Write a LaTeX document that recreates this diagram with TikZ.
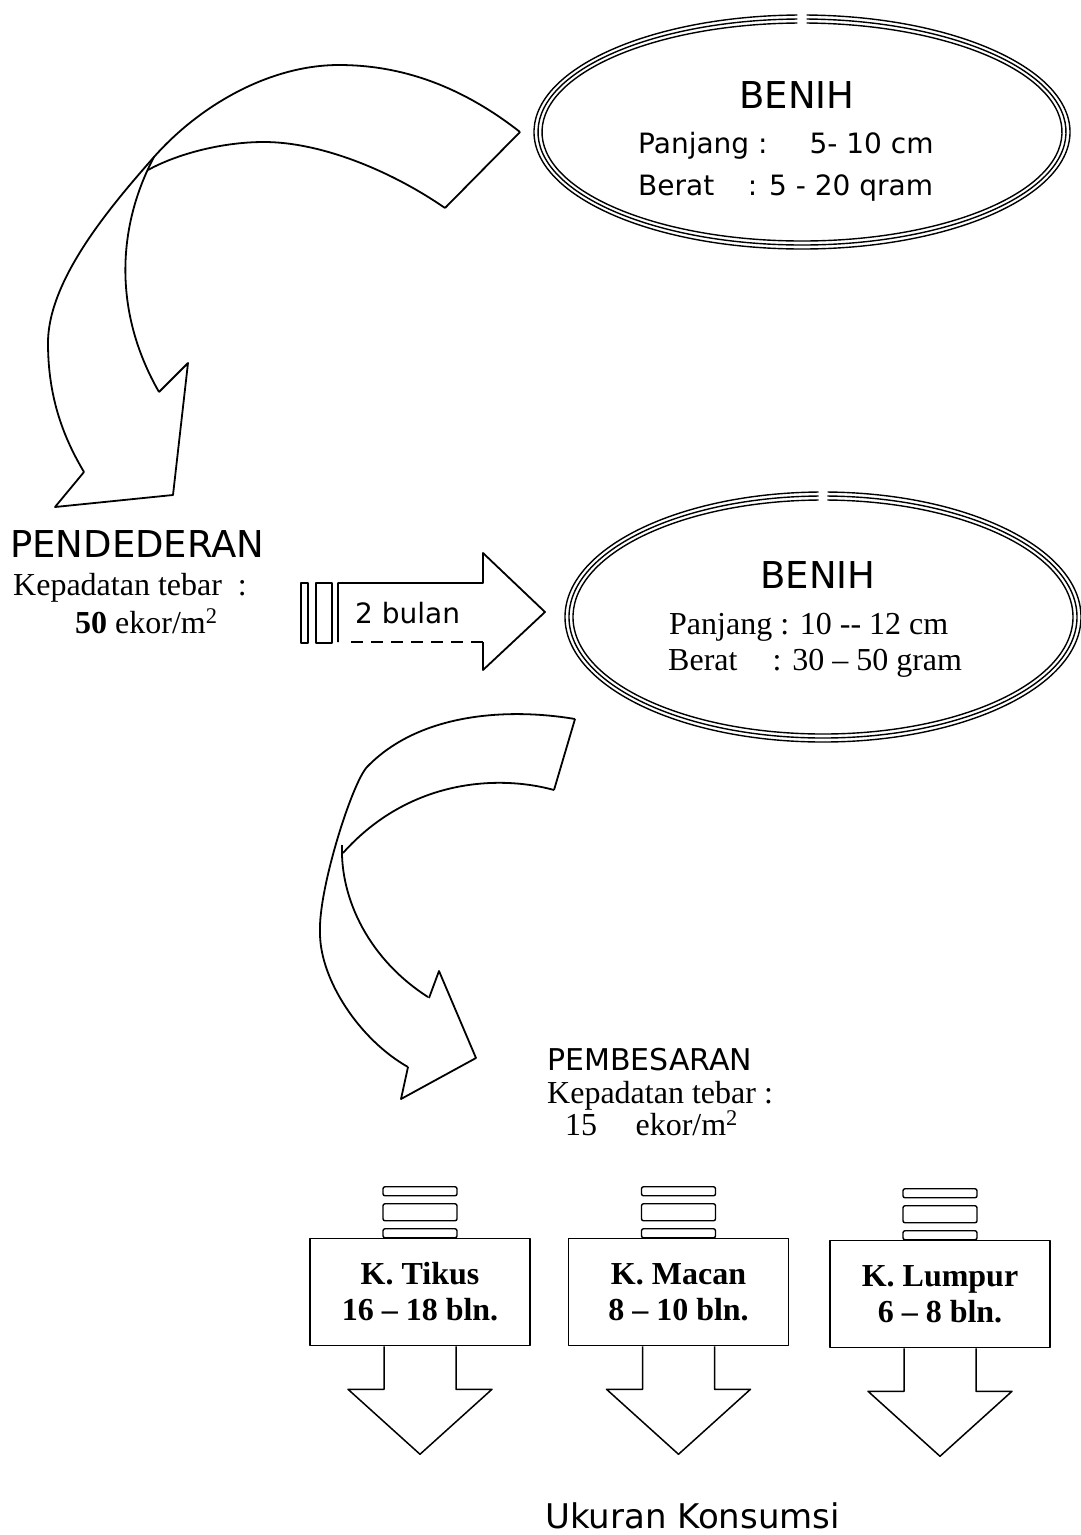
\documentclass[tikz,border=0pt]{standalone}
\usepackage{fontspec}
\setmainfont{Liberation Serif}
\newfontfamily\comic{DejaVu Sans}
\usetikzlibrary{positioning}

\begin{document}
\begin{tikzpicture}[x=1pt,y=-1pt,line join=round,
  garis/.style={black,line width=1.8pt},
  cincin/.style={black,line width=1.4pt},
  judul/.style={font=\comic\fontsize{37}{40}\selectfont,inner sep=0pt},
  judulkecil/.style={font=\comic\fontsize{30}{34}\selectfont,inner sep=0pt},
  isi/.style={font=\comic\fontsize{28}{32}\selectfont,inner sep=0pt},
  teks/.style={font=\fontsize{32}{36}\selectfont,inner sep=0pt},
  kotak/.style={draw,line width=1.5pt,minimum width=220pt,minimum height=107pt,align=center,font=\bfseries\fontsize{32}{36}\selectfont},
  tumpuk/.style={draw,line width=1.4pt,rounded corners=2pt}]

\useasboundingbox (0,0) rectangle (1081,1535);

% benih atas
\coordinate (benih1) at (802,132);
\draw[cincin] ([shift={(271:268 and 117)}]benih1) arc[start angle=271,end angle=629,x radius=268,y radius=117];
\draw[cincin] ([shift={(271:264 and 113)}]benih1) arc[start angle=271,end angle=629,x radius=264,y radius=113];
\draw[cincin] ([shift={(271:260 and 109)}]benih1) arc[start angle=271,end angle=629,x radius=260,y radius=109];
\node[judul,anchor=base] (judul1) at (797,108) {BENIH};
\node[isi,anchor=base west] (panjang1) at (638,153) {Panjang :\hspace{1.5em}5- 10 cm};
\node[isi,anchor=base west] (berat1) at (638,195) {Berat\hspace{1.2em}: 5 - 20 qram};

% benih tengah
\coordinate (benih2) at (823,617);
\draw[cincin] ([shift={(271:258 and 125)}]benih2) arc[start angle=271,end angle=629,x radius=258,y radius=125];
\draw[cincin] ([shift={(271:254 and 121)}]benih2) arc[start angle=271,end angle=629,x radius=254,y radius=121];
\draw[cincin] ([shift={(271:250 and 117)}]benih2) arc[start angle=271,end angle=629,x radius=250,y radius=117];
\node[judul,anchor=base] (judul2) at (818,588) {BENIH};
\node[teks,anchor=base west] (panjang2) at (669,634) {Panjang : 10 -{}- 12 cm};
\node[teks,anchor=base west] (berat2) at (668,670) {Berat\hspace{1.1em}: 30 – 50 gram};

% panah lengkung pertama
\draw[garis] (520,132) .. controls (460,85) and (400,65) .. (339,65)
  .. controls (270,65) and (200,105) .. (154,157)
  .. controls (110,207) and (48,280) .. (48,343)
  .. controls (48,400) and (65,440) .. (84,472);
\draw[garis] (520,132) -- (445,208);
\draw[garis] (445,208) .. controls (390,170) and (320,142) .. (264,142)
  .. controls (220,142) and (175,155) .. (148,170);
\draw[garis] (154,157) .. controls (118,225) and (112,310) .. (159,392);
\draw[garis] (84,472) -- (55,507) -- (173,495) -- (188,363) -- (159,392);

\node[judul,anchor=base west] (pendederan) at (10,557) {PENDEDERAN};
\node[teks,anchor=base west] (padat1) at (13,595) {Kepadatan tebar~~:};
\node[teks,anchor=base west] (ekor1) at (75,633) {\textbf{50} ekor/m\textsuperscript{2}};

% panah 2 bulan
\draw[garis,line width=1.5pt] (301,583) rectangle (308,643);
\draw[garis,line width=1.5pt] (316,583) rectangle (332,643);
\draw[garis] (338,642) -- (338,583) -- (483,583) -- (483,553) -- (545,612) -- (483,670) -- (483,642);
\draw[garis,dash pattern=on 12pt off 8pt] (483,642) -- (347,642);
\node[isi,anchor=base west] (durasi) at (355,623) {2 bulan};

% panah lengkung kedua
\draw[garis] (575,719) .. controls (510,708) and (420,712) .. (367,767)
  .. controls (352,783) and (318,890) .. (320,933)
  .. controls (320,980) and (360,1040) .. (408,1067);
\draw[garis] (575,719) -- (554,790);
\draw[garis] (554,790) .. controls (500,775) and (410,778) .. (343,853);
\draw[garis] (342,845) .. controls (340,900) and (370,960) .. (428,997);
\draw[garis] (408,1067) -- (401,1099) -- (476,1058) -- (439,971) -- (429,998);

\node[judulkecil,anchor=base west] (pembesaran) at (547,1070) {PEMBESARAN};
\node[teks,anchor=base west] (padat2) at (547,1103) {Kepadatan tebar :};
\node[teks,anchor=base west] (ekor2) at (565,1135) {15\hspace{1.2em}ekor/m\textsuperscript{2}};

% kolam
\node[kotak] (tikus) at (420,1292) {K. Tikus\\16 – 18 bln.};
\node[kotak,right=37pt of tikus] (macan) {K. Macan\\8 – 10 bln.};
\node[kotak,right=40pt of macan,yshift=-2pt] (lumpur) {K. Lumpur\\6 – 8 bln.};

\draw[tumpuk] ([xshift=-37pt]tikus.north) rectangle ++(74,-9);
\draw[tumpuk] ([xshift=-37pt,yshift=17pt]tikus.north) rectangle ++(74,-17);
\draw[tumpuk] ([xshift=-37pt,yshift=42pt]tikus.north) rectangle ++(74,-9);
\draw[tumpuk] ([xshift=-37pt]macan.north) rectangle ++(74,-9);
\draw[tumpuk] ([xshift=-37pt,yshift=17pt]macan.north) rectangle ++(74,-17);
\draw[tumpuk] ([xshift=-37pt,yshift=42pt]macan.north) rectangle ++(74,-9);
\draw[tumpuk] ([xshift=-37pt]lumpur.north) rectangle ++(74,-9);
\draw[tumpuk] ([xshift=-37pt,yshift=17pt]lumpur.north) rectangle ++(74,-17);
\draw[tumpuk] ([xshift=-37pt,yshift=42pt]lumpur.north) rectangle ++(74,-9);

\draw[garis,line width=1.5pt] ([xshift=-36pt]tikus.south) -- ++(0,43) -- ++(-36,0) -- ([yshift=-108pt]tikus.south) -- ([xshift=72pt,yshift=-43pt]tikus.south) -- ++(-36,0) -- ([xshift=36pt]tikus.south);
\draw[garis,line width=1.5pt] ([xshift=-36pt]macan.south) -- ++(0,43) -- ++(-36,0) -- ([yshift=-108pt]macan.south) -- ([xshift=72pt,yshift=-43pt]macan.south) -- ++(-36,0) -- ([xshift=36pt]macan.south);
\draw[garis,line width=1.5pt] ([xshift=-36pt]lumpur.south) -- ++(0,43) -- ++(-36,0) -- ([yshift=-108pt]lumpur.south) -- ([xshift=72pt,yshift=-43pt]lumpur.south) -- ++(-36,0) -- ([xshift=36pt]lumpur.south);

\node[font=\comic\fontsize{34}{38}\selectfont,inner sep=0pt,anchor=base west] (ukuran) at (545,1528) {Ukuran Konsumsi};

\end{tikzpicture}
\end{document}
